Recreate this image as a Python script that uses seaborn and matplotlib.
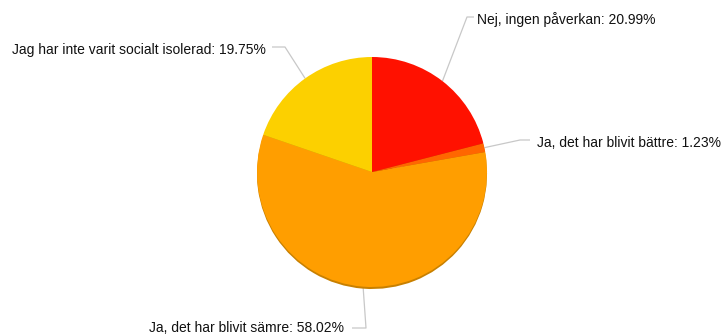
import numpy as np
import matplotlib
matplotlib.use("Agg")
import matplotlib.pyplot as plt
import seaborn as sns

sns.set_theme(style="white")
plt.rcParams['font.family'] = ['Liberation Sans', 'DejaVu Sans']

labels = ["Nej, ingen påverkan", "Ja, det har blivit bättre",
          "Ja, det har blivit sämre", "Jag har inte varit socialt isolerad"]
values = [20.99, 1.23, 58.02, 19.75]
colors = ["#FF1100", "#FF6600", "#FF9E00", "#FCD000"]
shadow_colors = ["#C00D00", "#C04C00", "#C88000", "#BFA000"]

W, H = 723, 335
fig = plt.figure(figsize=(W / 100, H / 100), dpi=100)
ax = fig.add_axes([0, 0, 1, 1])

cx, cy, r = 372, H - 172, 115

# shadow
ax.pie(values, colors=shadow_colors, startangle=90, counterclock=False,
       center=(cx, cy - 2.0), radius=r, frame=True,
       wedgeprops=dict(linewidth=0))
ax.pie(values, colors=colors, startangle=90, counterclock=False,
       center=(cx, cy), radius=r, frame=True,
       wedgeprops=dict(linewidth=0))
ax.set_xlim(0, W)
ax.set_ylim(0, H)
ax.set_aspect("equal")
ax.axis("off")

# label layout: elbow point, end of horizontal line, text anchor, alignment
layout = [
    ((467, 17), (474, 17), (477, 20), "left"),
    ((520, 140), (530, 140), (537, 143), "left"),
    ((366, 328), (352, 328), (344, 328), "right"),
    ((285, 47), (272, 47), (266, 50), "right"),
]

cum = np.cumsum([0] + values)
total = sum(values)
for i, (lab, v) in enumerate(zip(labels, values)):
    mid = (cum[i] + v / 2) / total * 360  # clockwise from top
    ang = np.deg2rad(mid)
    sx = cx + r * np.sin(ang)
    sy = cy + r * np.cos(ang)
    (ex, ey), (hx, hy), (tx, ty), ha = layout[i]
    ax.plot([sx, ex, hx], [sy, H - ey, H - hy], color="#c8c8c8", lw=0.9,
            zorder=0.5, solid_capstyle="butt")
    ax.text(tx, H - ty, f"{lab}: {v:.2f}%", ha=ha, va="center",
            fontsize=10, color="#111111")

fig.savefig("out.png", dpi=100)
